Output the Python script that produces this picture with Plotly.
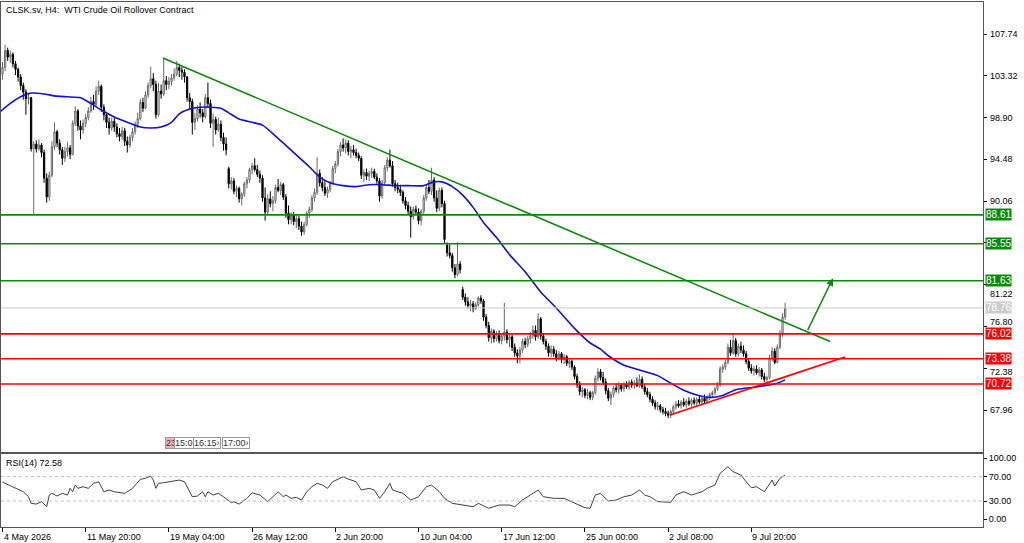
import plotly.graph_objects as go

# ---------------- data ----------------
opens = [
    103.5,104.2,106.0,105.3,105.6,104.6,104.0,103.2,102.3,101.6,
    100.9,101.0,95.6,96.1,95.6,96.0,95.2,92.5,90.5,92.8,
    95.8,97.4,96.2,95.5,94.6,95.3,95.7,95.0,98.3,99.6,
    98.0,97.6,98.3,98.9,99.6,100.6,100.3,101.7,102.2,100.0,
    99.2,98.4,97.8,98.5,97.9,97.2,96.9,97.5,96.4,96.0,
    96.8,97.4,98.2,98.8,100.5,99.9,101.3,102.3,103.0,102.4,
    99.2,101.7,101.4,102.8,102.4,102.7,103.1,103.5,104.2,103.9,
    103.7,103.2,101.0,100.6,98.4,98.8,99.8,99.4,99.0,101.0,
    100.4,98.3,98.7,97.6,98.2,96.8,96.1,93.5,91.9,92.2,
    91.1,91.4,90.3,90.8,91.9,92.3,93.4,93.8,93.4,92.9,
    92.5,90.4,88.9,90.3,89.8,90.1,91.5,91.2,91.8,90.5,
    88.8,88.1,88.6,87.9,88.2,87.4,86.8,87.6,88.8,89.2,
    90.4,91.0,93.0,92.0,91.5,90.9,91.3,92.0,93.5,94.0,
    95.3,96.0,95.7,96.2,95.3,95.5,95.2,94.9,94.6,92.8,
    93.1,92.7,93.0,93.2,92.6,92.2,90.6,92.0,93.6,94.4,
    93.8,91.9,91.5,91.3,91.0,90.1,89.6,89.0,88.4,89.2,
    88.9,88.0,89.0,90.4,91.5,91.1,92.3,90.4,89.3,91.2,
    89.8,85.4,84.6,84.3,83.0,82.3,83.4,80.7,79.9,79.4,
    79.0,79.2,78.7,79.1,79.8,79.5,77.8,76.9,75.6,76.3,
    75.5,76.0,75.3,75.8,76.2,75.4,75.7,74.6,74.0,73.7,
    74.3,75.2,74.9,75.5,75.8,76.4,75.7,77.6,75.8,75.2,
    74.7,74.0,74.4,73.9,73.5,73.9,73.3,73.6,72.9,73.1,
    72.5,71.5,70.6,69.9,70.1,69.5,69.8,69.3,69.8,71.3,
    72.0,71.4,70.9,70.0,69.2,69.6,70.3,70.1,70.6,70.2,
    70.7,70.4,70.9,70.6,70.8,70.5,71.2,70.4,69.9,69.6,
    69.1,68.7,68.3,68.4,68.0,67.8,67.6,67.4,67.8,68.3,
    68.6,68.4,68.8,68.5,68.9,68.6,69.0,68.7,69.1,68.8,
    69.2,68.9,69.3,69.6,69.8,70.2,70.6,72.3,72.5,73.0,
    74.6,74.0,75.3,73.9,74.7,74.3,73.9,73.1,72.4,72.1,
    72.3,71.9,72.2,71.5,71.2,71.4,73.5,74.2,73.0,74.6,
    76.0,77.8,
]
highs = [
    104.8,106.6,106.3,106.0,105.8,104.9,104.2,103.5,102.6,101.9,
    101.4,101.1,96.4,96.5,96.6,96.2,95.5,93.0,93.2,96.4,
    98.4,97.6,96.6,95.8,95.8,96.3,96.0,98.6,100.1,99.8,
    98.6,98.7,99.3,100.0,101.1,101.3,102.2,102.8,102.4,100.3,
    99.5,98.9,98.9,98.9,98.3,97.8,97.9,97.8,96.9,97.1,
    97.8,98.5,99.4,100.9,101.0,101.7,102.6,104.3,103.6,102.8,
    102.6,102.4,105.2,103.3,103.2,103.5,104.1,104.9,104.6,104.3,
    104.0,103.3,101.5,100.9,99.4,100.2,100.5,99.8,101.4,102.6,
    100.8,99.3,99.0,98.9,98.6,97.3,96.8,93.7,92.6,92.5,
    91.7,91.6,91.0,92.1,92.6,93.6,94.1,94.6,93.9,93.3,
    92.8,91.5,90.8,91.1,90.6,91.8,92.4,92.1,92.0,90.8,
    89.6,88.9,88.9,88.6,88.5,87.9,87.9,89.0,89.5,90.7,
    91.4,94.7,93.4,92.6,92.3,91.6,92.2,93.8,94.3,95.6,
    96.3,96.7,96.6,96.5,95.9,96.0,95.6,95.2,94.8,93.4,
    93.5,93.3,93.6,93.5,93.0,92.5,92.3,93.9,94.7,95.5,
    94.3,92.3,92.0,91.8,91.2,90.5,90.0,89.5,89.5,89.6,
    89.3,89.2,90.7,91.8,92.3,93.6,92.6,91.2,91.5,91.5,
    90.1,85.7,85.5,84.6,83.4,85.7,83.7,81.0,80.3,79.9,
    79.6,79.5,79.4,80.0,80.1,79.7,78.1,77.3,76.6,76.5,
    76.3,76.4,76.1,79.3,76.5,76.0,75.9,75.0,74.4,74.6,
    75.5,75.6,75.8,76.2,76.9,76.9,78.2,77.8,76.1,75.5,
    75.0,74.8,74.7,74.3,74.2,74.1,73.9,73.8,73.4,73.3,
    72.7,71.8,71.0,70.4,70.3,70.2,70.0,70.0,71.6,72.4,
    72.3,72.0,71.3,70.3,69.9,70.5,70.8,70.9,70.8,70.9,
    71.0,71.1,71.2,71.1,71.4,71.7,71.5,70.7,70.3,69.9,
    69.4,69.0,68.8,68.6,68.3,68.2,67.9,68.0,68.5,68.9,
    69.0,69.0,69.2,69.1,69.3,69.2,69.3,69.3,69.5,69.4,
    69.6,69.5,69.8,70.0,70.4,70.9,72.6,72.8,73.3,75.0,
    75.4,76.1,75.6,75.0,75.2,74.8,74.2,73.4,72.8,72.6,
    72.7,72.5,72.4,71.9,71.6,73.8,74.6,74.5,74.9,76.4,
    78.2,79.3,
]
lows = [
    102.9,103.8,104.9,104.7,104.2,103.4,102.7,101.8,100.8,99.2,
    100.3,95.3,88.6,95.2,95.4,94.7,92.0,89.9,90.1,92.6,
    95.5,95.8,95.0,93.9,94.2,94.8,94.5,94.9,98.0,97.5,
    96.6,97.2,97.9,98.6,99.4,99.7,100.1,101.3,99.5,98.6,
    97.8,97.1,97.5,97.4,96.8,96.4,96.5,95.9,95.2,95.7,
    96.4,97.1,97.8,98.6,99.5,99.8,101.0,102.0,101.7,98.8,
    99.0,100.9,101.2,101.8,101.9,102.3,102.8,103.3,103.2,102.9,
    102.6,100.6,99.8,97.1,97.6,98.5,98.9,98.4,98.8,99.9,
    97.8,95.8,97.1,97.4,96.4,95.4,94.9,91.4,91.3,90.8,
    90.5,89.9,89.6,90.5,91.4,92.0,92.9,93.2,92.6,92.0,
    90.0,88.0,88.6,89.4,89.0,89.8,91.0,90.7,90.2,88.3,
    87.6,87.6,87.5,87.2,87.0,86.4,86.5,87.4,88.3,88.9,
    90.0,90.7,91.6,91.1,90.6,90.4,91.0,91.8,93.0,93.7,
    94.8,95.3,95.1,94.9,94.6,94.9,94.6,94.3,92.4,92.1,
    92.3,92.2,92.5,92.4,91.9,90.0,90.3,91.7,93.2,93.6,
    91.6,91.1,90.9,90.6,89.8,89.2,88.7,86.2,88.1,88.6,
    87.6,87.5,88.7,90.1,90.8,90.7,90.0,88.9,89.0,89.4,
    85.6,84.2,84.0,82.6,81.9,82.1,82.4,79.6,79.0,78.7,
    78.4,78.3,78.5,78.9,79.2,77.4,76.6,75.2,75.0,75.1,
    75.2,75.0,74.9,75.3,75.0,74.6,74.2,73.6,72.9,72.9,
    74.0,74.5,74.6,75.0,75.5,75.3,75.5,75.4,74.9,74.3,
    73.6,73.5,73.6,73.1,73.2,72.9,72.8,72.6,72.4,72.2,
    71.2,70.3,69.5,69.3,69.2,69.1,69.0,69.0,69.6,71.0,
    71.1,70.6,69.6,68.9,68.5,69.3,69.8,69.7,69.9,69.9,
    70.2,70.1,70.3,70.2,70.4,70.3,70.2,69.6,69.3,68.8,
    68.4,68.0,67.9,67.7,67.5,67.3,67.1,67.1,67.6,68.0,
    68.2,68.1,68.3,68.2,68.4,68.3,68.5,68.4,68.6,68.5,
    68.7,68.6,69.0,69.2,69.5,70.0,70.4,71.9,72.2,72.8,
    73.7,73.8,73.6,73.6,74.0,73.6,72.8,72.1,71.8,71.6,
    71.7,71.5,71.2,70.9,70.9,71.2,73.1,72.8,72.9,74.4,
    75.7,77.5,
]
closes = [
    104.2,106.0,105.3,105.6,104.6,104.0,103.2,102.3,101.6,100.9,
    101.0,95.6,96.1,95.6,96.0,95.2,92.5,90.5,92.8,95.8,
    97.4,96.2,95.5,94.6,95.3,95.7,95.0,98.3,99.6,98.0,
    97.6,98.3,98.9,99.6,100.6,100.3,101.7,102.2,100.0,99.2,
    98.4,97.8,98.5,97.9,97.2,96.9,97.5,96.4,96.0,96.8,
    97.4,98.2,98.8,100.5,99.9,101.3,102.3,103.0,102.4,99.2,
    101.7,101.4,102.8,102.4,102.7,103.1,103.5,104.2,103.9,103.7,
    103.2,101.0,100.6,98.4,98.8,99.8,99.4,99.0,101.0,100.4,
    98.3,98.7,97.6,98.2,96.8,96.1,95.5,91.9,92.2,91.1,
    91.4,90.3,90.8,91.9,92.3,93.4,93.8,93.4,92.9,92.5,
    90.4,88.9,90.3,89.8,90.1,91.5,91.2,91.8,90.5,88.8,
    88.1,88.6,87.9,88.2,87.4,86.8,87.6,88.8,89.2,90.4,
    91.0,93.0,92.0,91.5,90.9,91.3,92.0,93.5,94.0,95.3,
    96.0,95.7,96.2,95.3,95.5,95.2,94.9,94.6,92.8,93.1,
    92.7,93.0,93.2,92.6,92.2,90.6,92.0,93.6,94.4,93.8,
    91.9,91.5,91.3,91.0,90.1,89.6,89.0,88.4,89.2,88.9,
    88.0,89.0,90.4,91.5,91.1,92.3,90.4,89.3,91.2,89.8,
    86.0,84.6,84.3,83.0,82.3,83.4,82.8,79.9,79.4,79.0,
    79.2,78.7,79.1,79.8,79.5,77.8,76.9,75.6,76.3,75.5,
    76.0,75.3,75.8,76.2,75.4,75.7,74.6,74.0,73.7,74.3,
    75.2,74.9,75.5,75.8,76.4,75.7,77.6,75.8,75.2,74.7,
    74.0,74.4,73.9,73.5,73.9,73.3,73.6,72.9,73.1,72.5,
    71.5,70.6,69.9,70.1,69.5,69.8,69.3,69.8,71.3,72.0,
    71.4,70.9,70.0,69.2,69.6,70.3,70.1,70.6,70.2,70.7,
    70.4,70.9,70.6,70.8,70.5,71.2,70.4,69.9,69.6,69.1,
    68.7,68.3,68.4,68.0,67.8,67.6,67.4,67.8,68.3,68.6,
    68.4,68.8,68.5,68.9,68.6,69.0,68.7,69.1,68.8,69.2,
    68.9,69.3,69.6,69.8,70.2,70.6,72.3,72.5,73.0,74.6,
    74.0,75.3,73.9,74.7,74.3,73.9,73.1,72.4,72.1,72.3,
    71.9,72.2,71.5,71.2,71.4,73.5,74.2,73.0,74.6,76.0,
    77.8,78.76,
]

# moving average (blue) read at sample bars
ma_bar = [-1,3,7,11,16,20,25,30,34,38,43,48,53,57,61,65,68,72,76,80,84,87,91,96,
          100,106,112,118,122,126,131,136,141,146,151,156,162,166,169,173,177,181,
          185,190,195,201,207,213,220,226,230,233,239,245,252,257,262,267,272,277,
          282,290,298,301]
ma_val = [99.5,100.4,101.1,101.5,101.4,101.2,101.1,101.0,100.4,99.7,98.96,98.4,97.9,
          97.8,97.9,98.4,99.3,99.8,100.0,100.0,99.9,99.4,98.75,98.4,98.1,96.7,95.2,
          93.7,92.6,92.0,91.7,91.6,91.8,91.8,91.7,91.7,91.7,92.1,92.1,91.6,90.7,89.4,
          87.8,86.2,84.4,82.6,80.45,78.75,76.6,75.05,74.4,73.7,72.7,72.2,71.6,70.8,
          70.05,69.55,69.3,69.5,70.1,70.4,70.8,71.15]

# RSI(14) read at sample bars
rsi_bar = [0,1,4,8,10,11,13,15,17,18,19,21,23,25,26,27,28,29,31,33,35,37,39,41,43,46,
           47,48,50,53,55,57,58,59,60,62,64,68,70,73,75,77,78,79,81,83,85,88,89,91,94,
           96,99,102,104,106,108,109,111,113,115,117,119,121,123,125,127,131,133,136,
           138,141,143,145,147,149,150,154,157,160,163,165,168,170,173,177,181,183,187,
           191,195,197,200,203,206,208,212,216,220,224,226,228,230,233,236,239,242,245,
           247,249,252,257,259,262,265,269,271,274,276,279,281,284,286,288,290,293,296,
           297,299,301]
rsi_val = [61,59,53.4,45.2,37,26.2,25,28.9,20.7,39.8,42.6,38.2,42.6,39.8,50.8,45.2,56.2,
           50.8,53.4,50.8,59,61.6,45.2,48,45.2,43.6,42.6,45.2,50.8,65.6,67.2,71,64.4,50.8,
           59,60,61.6,64.4,61.6,37,38.2,45.2,37,45.2,39.8,42.6,37,27.2,28.9,25,34.4,43.6,
           39.8,28.9,37,45.2,37,39.8,34.4,36,31.6,45.2,53.4,59,56.2,50.8,61.6,69.8,66,61.6,
           48,50.8,48,34.4,45.2,59,48,42.6,31.6,37,53.4,56.2,45.2,34.4,26.2,23.4,20.7,26.2,
           18,23.4,23.4,20.7,31.6,39.8,48,37,34.4,34.4,26.2,19,18,39.8,42.6,30,31.6,37,39.8,
           48,39.8,37,28.9,27.9,39.8,45.2,39.8,45.2,50.8,56.2,75.4,86.2,78,72.6,61.6,51.8,
           53.4,45.2,64.4,54.6,67.2,72.58]

green_levels = [88.61, 85.55, 81.63]
red_levels = [76.02, 73.38, 70.72]
last_price = 78.76

down_trend_bar = [61.7, 318.3]
down_trend_val = [105.2, 75.2]
up_trend_bar = [256.7, 324.0]
up_trend_val = [67.43, 73.57]
arrow_bar = [309.4, 319.4]
arrow_val = [76.25, 81.9]

price_ticks = [67.96, 72.38, 76.80, 81.22, 85.64, 90.06, 94.48, 98.90, 103.32, 107.74]
# tick labels that are visible in the reference (85.64 is hidden behind the 85.55 tag)
price_labels_shown = [67.96, 72.38, 76.80, 81.22, 90.06, 94.48, 98.90, 103.32, 107.74]
label_nudge = {72.38: -4, 76.80: 4, 81.22: -9.5}   # pixel nudges to clear the price tags
rsi_ticks = [0, 30, 70, 100]
xtick_bars = [0, 32, 64, 96, 128, 160, 192, 224, 256, 288]
xtick_labels = ["4 May 2026", "11 May 20:00", "19 May 04:00", "26 May 12:00",
                "2 Jun 20:00", "10 Jun 04:00", "17 Jun 12:00", "25 Jun 00:00",
                "2 Jul 08:00", "9 Jul 20:00"]

bars = list(range(len(closes)))

FONT = "Liberation Sans, Arial, sans-serif"
GREEN = "#0a8a0a"
RED = "#ff0000"
AXC = "#555555"

fig = go.Figure()

fig.add_trace(go.Candlestick(
    x=bars, open=opens, high=highs, low=lows, close=closes,
    increasing=dict(line=dict(color="#6a6a6a", width=1), fillcolor="#ffffff"),
    decreasing=dict(line=dict(color="#000000", width=1), fillcolor="#000000"),
    whiskerwidth=0, hoverinfo="skip", xaxis="x", yaxis="y"))

fig.add_trace(go.Scatter(x=ma_bar, y=ma_val, mode="lines",
                         line=dict(color="#1010d8", width=1.6, shape="spline", smoothing=0.6),
                         hoverinfo="skip", xaxis="x", yaxis="y"))

fig.add_trace(go.Scatter(x=down_trend_bar, y=down_trend_val, mode="lines",
                         line=dict(color=GREEN, width=1.6), hoverinfo="skip", xaxis="x", yaxis="y"))
fig.add_trace(go.Scatter(x=up_trend_bar, y=up_trend_val, mode="lines",
                         line=dict(color=RED, width=1.8), hoverinfo="skip", xaxis="x", yaxis="y"))

fig.add_trace(go.Scatter(x=rsi_bar, y=rsi_val, mode="lines", line=dict(color="#2a2a2a", width=0.9),
                         hoverinfo="skip", xaxis="x2", yaxis="y2"))

shapes = []
for lv in green_levels:
    shapes.append(dict(type="line", xref="paper", x0=0, x1=1, yref="y", y0=lv, y1=lv,
                       line=dict(color=GREEN, width=1.6)))
for lv in red_levels:
    shapes.append(dict(type="line", xref="paper", x0=0, x1=1, yref="y", y0=lv, y1=lv,
                       line=dict(color=RED, width=1.6)))
shapes.append(dict(type="line", xref="paper", x0=0, x1=1, yref="y", y0=last_price, y1=last_price,
                   line=dict(color="#c8c8c8", width=1)))
for lv in [30, 70]:
    shapes.append(dict(type="line", xref="paper", x0=0, x1=1, yref="y2", y0=lv, y1=lv,
                       line=dict(color="#c0c0c0", width=1, dash="dot")))

annotations = []
# price-axis tick labels (as text so they can clear the price tags)
for v in price_labels_shown:
    annotations.append(dict(xref="paper", x=1, xanchor="left", xshift=5, yref="y", y=v, yanchor="middle",
                            yshift=label_nudge.get(v, 0), text=f"{v:.2f}", showarrow=False,
                            font=dict(family=FONT, size=9, color="#000000")))
# right side price tags
for lv in green_levels:
    annotations.append(dict(xref="paper", x=1, xanchor="left", xshift=2, yref="y", y=lv, yanchor="middle",
                            text=f"{lv:.2f}", showarrow=False, bgcolor=GREEN, borderpad=0,
                            font=dict(family=FONT, size=10, color="white")))
for lv in red_levels:
    annotations.append(dict(xref="paper", x=1, xanchor="left", xshift=2, yref="y", y=lv, yanchor="middle",
                            text=f"{lv:.2f}", showarrow=False, bgcolor=RED, borderpad=0,
                            font=dict(family=FONT, size=10, color="white")))
annotations.append(dict(xref="paper", x=1, xanchor="left", xshift=2, yref="y", y=last_price, yanchor="middle",
                        text=f"{last_price:.2f}", showarrow=False, bgcolor="#cccccc", borderpad=0,
                        font=dict(family=FONT, size=10, color="white")))
# x labels (left aligned at ticks, MetaTrader style)
for b, t in zip(xtick_bars, xtick_labels):
    annotations.append(dict(xref="x2", x=b, xanchor="left", xshift=-1, yref="paper", y=0, yanchor="top",
                            yshift=-3, text=t, showarrow=False,
                            font=dict(family=FONT, size=9, color="#000000")))
# title & RSI label
annotations.append(dict(xref="paper", x=0, xanchor="left", xshift=3, yref="paper", y=1, yanchor="top",
                        yshift=-1, text="CLSK.sv, H4:  WTI Crude Oil Rollover Contract", showarrow=False,
                        font=dict(family=FONT, size=9, color="#000000")))
annotations.append(dict(xref="paper", x=0, xanchor="left", xshift=3, yref="paper", y=0.139, yanchor="top",
                        yshift=-2, text=f"RSI(14) {rsi_val[-1]:.2f}", showarrow=False,
                        font=dict(family=FONT, size=9, color="#000000")))
# up arrow
annotations.append(dict(xref="x", yref="y", x=arrow_bar[1], y=arrow_val[1], axref="x", ayref="y",
                        ax=arrow_bar[0], ay=arrow_val[0], showarrow=True, arrowhead=2, arrowsize=1,
                        arrowwidth=1.5, arrowcolor=GREEN, text=""))
# small time boxes at bottom of main panel
boxes = [("23", 0.1665, "#f4b0bd"), ("15:0", 0.1765, "#ffffff"),
         ("16:15\u203a", 0.1960, "#ffffff"), ("17:00\u203a", 0.2255, "#ffffff")]
for t, xp, bg in boxes:
    annotations.append(dict(xref="paper", x=xp, xanchor="left", yref="paper", y=0.16, yanchor="middle",
                            text=t, showarrow=False, bgcolor=bg, bordercolor="#9a9a9a", borderwidth=1,
                            borderpad=0, font=dict(family=FONT, size=9, color="#333333")))

xr = [-0.577, 377.1]
fig.update_layout(
    width=1024, height=543,
    margin=dict(l=1, r=41, t=2, b=16),
    paper_bgcolor="white", plot_bgcolor="white",
    showlegend=False,
    shapes=shapes, annotations=annotations,
    xaxis=dict(domain=[0, 1], range=xr, anchor="y", showgrid=False, zeroline=False,
               showticklabels=False, ticks="", showline=True, mirror=True, linecolor=AXC, linewidth=1,
               rangeslider=dict(visible=False), fixedrange=True),
    yaxis=dict(domain=[0.1429, 1], range=[63.52, 111.13], side="right", anchor="x",
               tickvals=price_ticks, ticktext=["" for _ in price_ticks],
               ticks="outside", ticklen=3, tickcolor="#000", showgrid=False, zeroline=False,
               showline=True, mirror=True, linecolor=AXC, linewidth=1),
    xaxis2=dict(domain=[0, 1], range=xr, anchor="y2", showgrid=False, zeroline=False,
                tickvals=xtick_bars, ticktext=["" for _ in xtick_bars], ticks="outside", ticklen=4,
                tickcolor="#000", showline=True, mirror=True, linecolor=AXC, linewidth=1),
    yaxis2=dict(domain=[0, 0.139], range=[-12.6, 107.05], side="right", anchor="x2",
                tickvals=rsi_ticks, ticktext=[f"{v:.2f}" for v in rsi_ticks],
                ticks="outside", ticklen=3, tickcolor="#000", showgrid=False, zeroline=False,
                showline=True, mirror=True, linecolor=AXC, linewidth=1,
                tickfont=dict(family=FONT, size=9, color="#000000")),
)

fig.write_html("out.html")
